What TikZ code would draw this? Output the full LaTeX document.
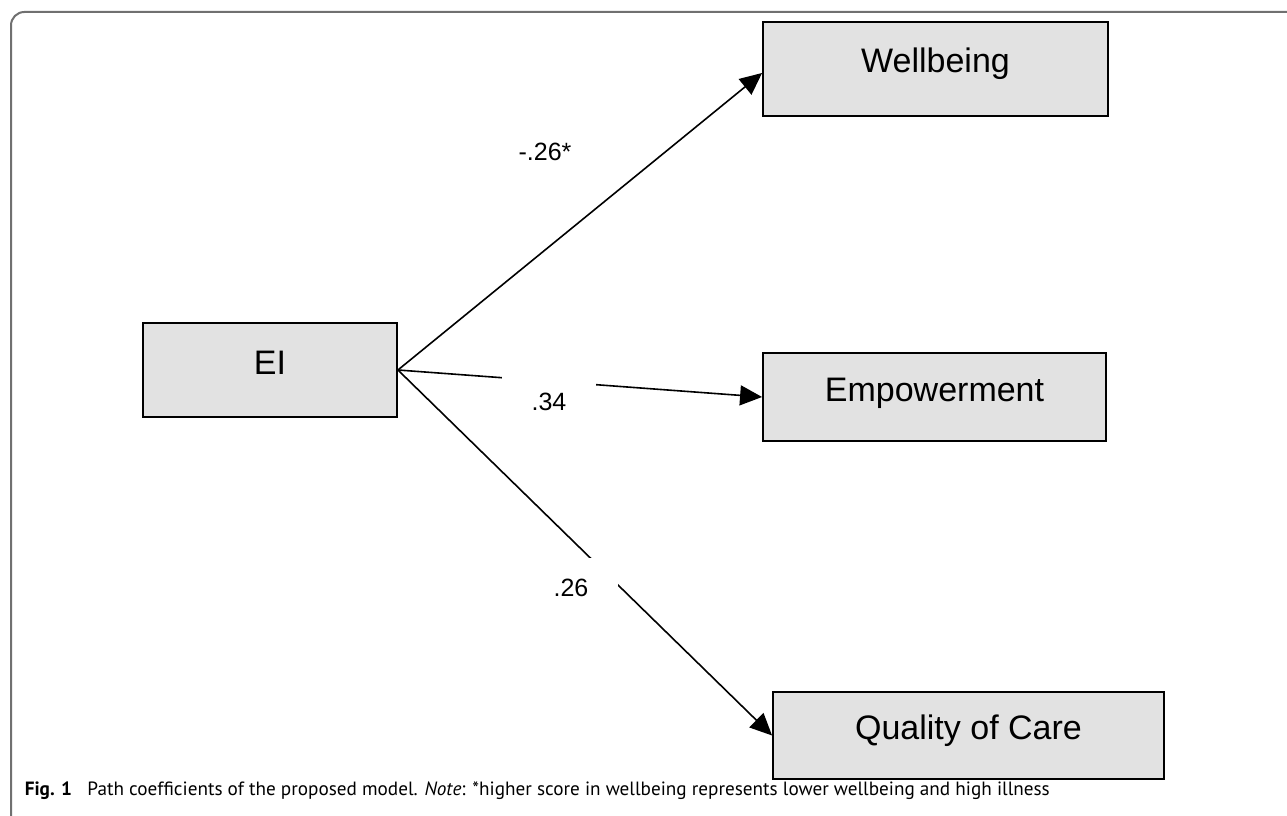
\documentclass[tikz,border=0pt]{standalone}
\usepackage{fontspec}
\setmainfont{Liberation Sans}
\newfontfamily\capfont{PT Sans}
\usepackage{tikz}
\usetikzlibrary{arrows.meta}
\definecolor{boxgray}{HTML}{E2E2E2}
\definecolor{framegray}{HTML}{707070}

\begin{document}
\begin{tikzpicture}[x=0.75pt,y=-0.75pt,line width=1.2pt,
    -{Triangle[length=16.5pt,width=15pt]}]
            \tikzstyle{box}=[draw,line width=1.4pt,fill=boxgray,inner sep=0pt,
                font=\fontsize{25.5pt}{30pt}\selectfont,text height=20pt,text depth=14pt]
            \tikzstyle{coef}=[font=\fontsize{18.75pt}{22pt}\selectfont]
            \tikzstyle{gapcoef}=[coef,fill=white,anchor=base,inner xsep=22pt,inner ysep=0pt,
                text height=28.75pt,text depth=0pt]

            \useasboundingbox (0,0) rectangle (1287,816);
            \draw[-,framegray,line width=1.5pt,rounded corners=10pt] (11,816) -- (11,12) -- (1287,12);

            \node[box,minimum width=190.5pt,minimum height=70.5pt] (M-ei) at (270, 370) {EI};
            \node[box,minimum width=258.75pt,minimum height=70.5pt] (M-wb) at (935.5, 69) {Wellbeing};
            \node[box,minimum width=257.25pt,minimum height=66pt] (M-em) at (934.5, 397) {Empowerment};
            \node[box,minimum width=293.25pt,minimum height=65.25pt] (M-qc) at (968.5, 735.5) {Quality of Care};

            \draw (M-ei.east) -- ([yshift=-3pt]M-wb.west) node[coef] at (545, 152) {-.26*};
            \draw (M-ei.east) -- (M-em.west) node[gapcoef] at (549, 410) {.34};
            \draw (M-ei.east) -- (M-qc.west) node[gapcoef] at (571, 596) {.26};

            \node[anchor=base west,inner sep=0pt,font=\capfont\fontsize{14.4pt}{17pt}\selectfont] (M-cap) at (24, 795)
                {\textbf{Fig. 1}\hspace{0.8em}Path coefficients of the proposed model. \textit{Note}: *higher score in wellbeing represents lower wellbeing and high illness};
        \end{tikzpicture}
\end{document}
